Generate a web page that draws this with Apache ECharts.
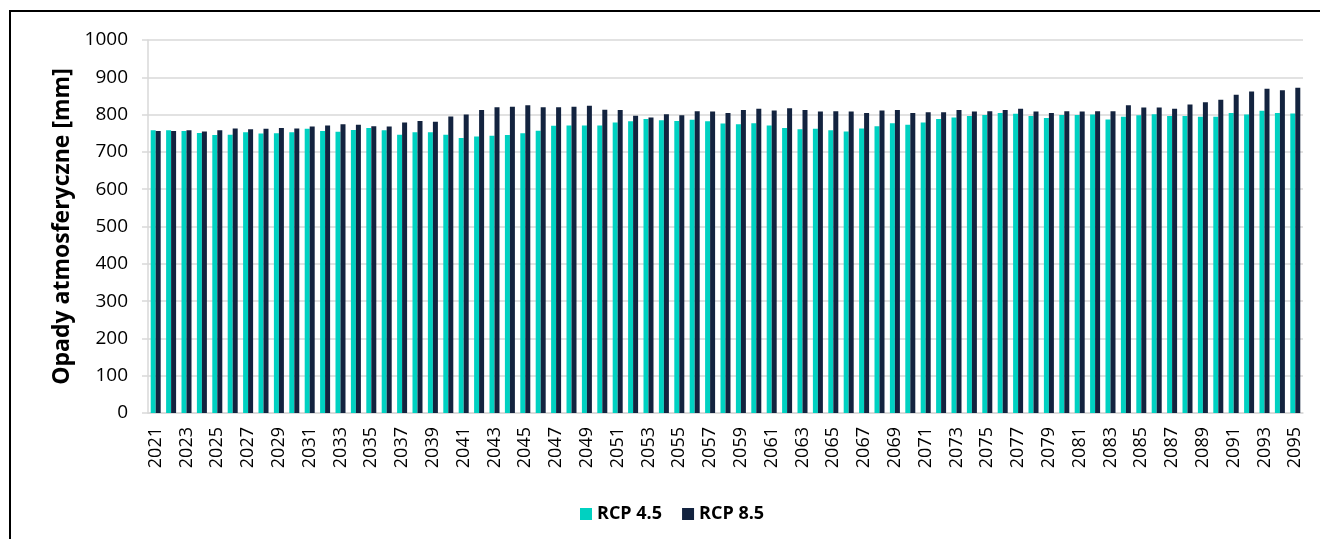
<!DOCTYPE html>
<html>
<head>
<meta charset="utf-8">
<script src="https://cdn.jsdelivr.net/npm/echarts@6/dist/echarts.min.js"></script>
<style>
  html, body { margin: 0; padding: 0; background: #fff; overflow: hidden; }
  #chart { width: 1320px; height: 539px; }
</style>
</head>
<body>
<div id="chart"></div>
<script>
  // lata
  const years = [
    '2021','2022','2023','2024','2025','2026','2027','2028','2029','2030',
    '2031','2032','2033','2034','2035','2036','2037','2038','2039','2040',
    '2041','2042','2043','2044','2045','2046','2047','2048','2049','2050',
    '2051','2052','2053','2054','2055','2056','2057','2058','2059','2060',
    '2061','2062','2063','2064','2065','2066','2067','2068','2069','2070',
    '2071','2072','2073','2074','2075','2076','2077','2078','2079','2080',
    '2081','2082','2083','2084','2085','2086','2087','2088','2089','2090',
    '2091','2092','2093','2094','2095'
  ]
  // opady [mm]
  const rcp45 = [
    758,758,756,751,745,746,753,749,750,753,762,756,754,759,764,758,746,753,753,
    746,737,741,743,745,750,757,770,771,771,771,779,782,788,785,783,786,782,776,
    774,777,771,764,761,762,758,755,763,769,777,773,779,788,792,796,799,804,802,
    796,791,799,799,800,787,794,798,801,796,796,794,794,804,800,810,804,803
  ]
  const rcp85 = [
    756,756,758,755,758,763,761,762,764,763,768,771,774,773,769,768,779,783,781,
    795,800,812,820,821,825,820,820,821,824,813,812,797,792,801,798,809,808,804,
    812,816,811,817,812,808,809,808,804,811,812,804,806,806,812,808,809,812,816,
    808,804,809,808,809,809,825,819,819,816,827,833,840,853,862,869,865,872
  ]
  const seriesNames = ['RCP 4.5', 'RCP 8.5']
  const yTicks = { min: 0, max: 1000, interval: 100 }

  const FONT = 'Open Sans'
  const chart = echarts.init(document.getElementById('chart'), null, { renderer: 'canvas' })
  const option = {
    animation: false,
    textStyle: { fontFamily: FONT },
    graphic: [
      {
        type: 'rect',
        shape: { x: 10, y: 11, width: 1400, height: 600 },
        style: { fill: 'none', stroke: '#000', lineWidth: 2 },
        silent: true
      }
    ],
    grid: { left: 148, right: 17, top: 40, bottom: 126 },
    legend: {
      data: seriesNames,
      left: 575,
      top: 500,
      icon: 'rect',
      itemWidth: 12,
      itemHeight: 12,
      itemGap: 20,
      textStyle: { fontFamily: FONT, fontWeight: 'bold', fontSize: 18, color: '#000' }
    },
    xAxis: {
      type: 'category',
      data: years,
      axisLine: { lineStyle: { color: '#d9d9d9', width: 1.5 } },
      axisTick: { show: false },
      axisLabel: {
        interval: 1,
        rotate: 90,
        margin: 14,
        fontSize: 18,
        color: '#000',
        fontFamily: FONT
      }
    },
    yAxis: {
      type: 'value',
      min: yTicks.min,
      max: yTicks.max,
      interval: yTicks.interval,
      name: 'Opady atmosferyczne [mm]',
      nameLocation: 'middle',
      nameRotate: 90,
      nameGap: 68,
      nameTextStyle: { fontFamily: FONT, fontWeight: 'bold', fontSize: 23, color: '#000' },
      axisLine: { show: true, lineStyle: { color: '#d9d9d9', width: 1.5 } },
      axisTick: { show: true, length: 6, lineStyle: { color: '#d9d9d9', width: 1.5 } },
      axisLabel: {
        margin: 20,
        fontSize: 19,
        color: '#000',
        fontFamily: FONT,
        formatter: v => String(v)
      },
      splitLine: { lineStyle: { color: '#d9d9d9', width: 1.5 } }
    },
    series: [
      {
        name: seriesNames[0],
        type: 'bar',
        data: rcp45,
        barWidth: 5,
        barGap: '0%',
        itemStyle: { color: '#00d1c1' }
      },
      {
        name: seriesNames[1],
        type: 'bar',
        data: rcp85,
        barWidth: 5,
        itemStyle: { color: '#13233f' }
      }
    ]
  }
  chart.setOption(option)
</script>
</body>
</html>
